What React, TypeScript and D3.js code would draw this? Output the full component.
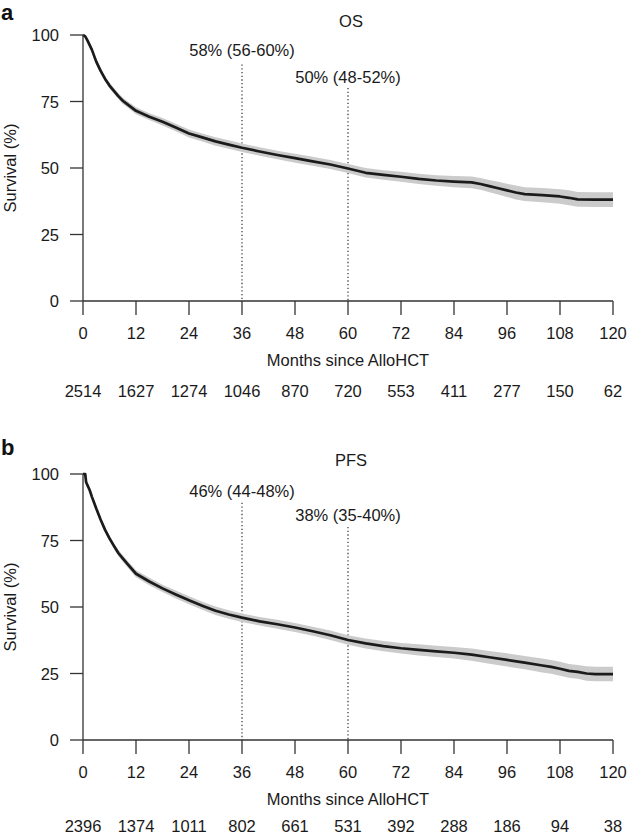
import React from "react";
import * as d3 from "d3";

const xTicks = [0, 12, 24, 36, 48, 60, 72, 84, 96, 108, 120];
const yTicks = [0, 25, 50, 75, 100];

const osAtRisk = [2514, 1627, 1274, 1046, 870, 720, 553, 411, 277, 150, 62];
const pfsAtRisk = [2396, 1374, 1011, 802, 661, 531, 392, 288, 186, 94, 38];

const osMonths = [0, 0.5, 1, 2, 3, 4, 5, 6, 7, 8, 9, 10, 12, 15, 18, 21, 24, 27, 30, 33, 36, 40, 44, 48, 52, 56, 60, 64, 68, 72, 76, 80, 84, 88, 90, 92, 94, 96, 98, 100, 104, 108, 110, 112, 116, 120];
const osSurv = [100, 99.5, 98, 94.5, 90, 86.5, 83.5, 81, 79, 77, 75.3, 74, 71.5, 69.3, 67.4, 65.2, 63, 61.5, 60, 58.8, 57.6, 56.2, 54.9, 53.7, 52.5, 51.3, 49.8, 48.2, 47.4, 46.7, 45.9, 45.3, 44.9, 44.6, 44.0, 43.2, 42.4, 41.6, 40.8, 40.2, 39.8, 39.3, 38.8, 38.2, 38.1, 38.1];
const osLower = [100, 99.2, 97.4, 93.7, 89.1, 85.5, 82.5, 79.9, 77.9, 75.9, 74.1, 72.8, 70.2, 68.0, 66.0, 63.8, 61.5, 60.0, 58.4, 57.2, 56.0, 54.6, 53.3, 52.0, 50.8, 49.6, 48.1, 46.4, 45.6, 44.8, 44.0, 43.3, 42.8, 42.4, 41.8, 40.9, 40.0, 39.1, 38.2, 37.6, 37.1, 36.6, 36.0, 35.4, 35.3, 35.3];
const osUpper = [100, 99.8, 98.6, 95.3, 90.9, 87.5, 84.5, 82.1, 80.1, 78.1, 76.5, 75.2, 72.8, 70.6, 68.8, 66.6, 64.5, 63.0, 61.6, 60.4, 59.2, 57.8, 56.5, 55.4, 54.2, 53.0, 51.5, 50.0, 49.2, 48.6, 47.8, 47.3, 47.0, 46.8, 46.2, 45.5, 44.8, 44.1, 43.4, 42.8, 42.5, 42.0, 41.6, 41.0, 40.9, 40.9];

const pfsMonths = [0, 0.5, 0.7, 1, 1.5, 2, 3, 4, 5, 6, 7, 8, 9, 10, 12, 15, 18, 21, 24, 27, 30, 33, 36, 40, 44, 48, 52, 56, 60, 64, 68, 72, 76, 80, 84, 88, 92, 96, 100, 104, 106, 108, 110, 112, 114, 116, 120];
const pfsSurv = [100, 100, 97, 95.8, 94, 91.5, 87, 82.8, 79, 75.8, 73, 70.3, 68.3, 66.3, 62.5, 59.6, 57, 54.7, 52.5, 50.5, 48.6, 47.2, 46, 44.6, 43.5, 42.3, 40.9, 39.4, 37.6, 36.3, 35.3, 34.5, 33.9, 33.3, 32.8, 32.1, 31.1, 30.1, 29.1, 28.0, 27.5, 26.8, 26.0, 25.6, 25.0, 24.8, 24.8];
const pfsLower = [100, 99.9, 96.6, 95.3, 93.4, 90.8, 86.2, 81.9, 78.0, 74.8, 71.9, 69.1, 67.1, 65.0, 61.2, 58.2, 55.6, 53.2, 51.0, 49.0, 47.0, 45.6, 44.4, 43.0, 41.8, 40.6, 39.2, 37.6, 35.8, 34.4, 33.4, 32.5, 31.8, 31.2, 30.6, 29.8, 28.7, 27.6, 26.6, 25.4, 24.9, 24.2, 23.4, 23.0, 22.3, 22.1, 22.1];
const pfsUpper = [100, 100, 97.4, 96.3, 94.6, 92.2, 87.8, 83.7, 80.0, 76.8, 74.1, 71.5, 69.5, 67.6, 63.8, 61.0, 58.4, 56.2, 54.0, 52.0, 50.2, 48.8, 47.6, 46.2, 45.2, 44.0, 42.6, 41.2, 39.4, 38.2, 37.2, 36.5, 36.0, 35.4, 35.0, 34.4, 33.5, 32.6, 31.6, 30.6, 30.1, 29.4, 28.6, 28.2, 27.7, 27.5, 27.5];

type Note = { month: number; labelAt: number; lineTop: number; text: string };
const osNotes: Note[] = [
  { month: 36, labelAt: 94.4, lineTop: 88.9, text: "58% (56-60%)" },
  { month: 60, labelAt: 84.2, lineTop: 80.1, text: "50% (48-52%)" },
];
const pfsNotes: Note[] = [
  { month: 36, labelAt: 93.6, lineTop: 89.2, text: "46% (44-48%)" },
  { month: 60, labelAt: 84.5, lineTop: 80.1, text: "38% (35-40%)" },
];

const FONT = "'Liberation Sans', Arial, Helvetica, sans-serif";
const INK = "#1a1a1a";
const FS = 16.5;

type PanelProps = {
  top: number;
  letter: string;
  letterY: number;
  title: string;
  months: number[];
  surv: number[];
  lower: number[];
  upper: number[];
  atRisk: number[];
  notes: Note[];
  riskOffset: number;
};

function Panel({ top, letter, letterY, title, months, surv, lower, upper, atRisk, notes, riskOffset }: PanelProps) {
  const x = d3.scaleLinear().domain([0, 120]).range([83, 613]);
  const y = d3.scaleLinear().domain([0, 100]).range([top + 266, top]);
  const idx = months.map((_, i) => i);
  const area = d3
    .area<number>()
    .x((i) => x(months[i]))
    .y0((i) => y(lower[i]))
    .y1((i) => y(upper[i]));
  const line = d3
    .line<number>()
    .x((i) => x(months[i]))
    .y((i) => y(surv[i]));
  const y0 = y(0);
  return (
    <g fontFamily={FONT} fill={INK}>
      <text x={1} y={letterY} fontSize={22} fontWeight="bold" fill="#111">
        {letter}
      </text>
      <text x={351} y={top - 14} fontSize={FS} textAnchor="middle" dominantBaseline="central">
        {title}
      </text>
      {notes.map((n) => (
        <g key={n.text}>
          <line
            x1={x(n.month)}
            x2={x(n.month)}
            y1={y(n.lineTop)}
            y2={y0}
            stroke="#333"
            strokeWidth={1.2}
            strokeDasharray="1.3,2.4"
          />
          <text x={x(n.month)} y={y(n.labelAt)} fontSize={FS} textAnchor="middle" dominantBaseline="central">
            {n.text}
          </text>
        </g>
      ))}
      <path d={area(idx) || ""} fill="#cbcbcb" stroke="none" />
      <path d={line(idx) || ""} fill="none" stroke="#1b1b1b" strokeWidth={2.7} strokeLinejoin="round" />
      <line x1={x(0)} x2={x(0)} y1={y(100)} y2={y0} stroke="#333" strokeWidth={1.3} />
      {yTicks.map((t) => (
        <g key={t}>
          <line x1={x(0) - 13} x2={x(0)} y1={y(t)} y2={y(t)} stroke="#333" strokeWidth={1.3} />
          <text x={x(0) - 24} y={y(t)} fontSize={FS} textAnchor="end" dominantBaseline="central">
            {t}
          </text>
        </g>
      ))}
      <text
        transform={`translate(10,${y(50)}) rotate(-90)`}
        fontSize={FS}
        textAnchor="middle"
        dominantBaseline="central"
      >
        Survival (%)
      </text>
      <line x1={x(0)} x2={x(120)} y1={y0} y2={y0} stroke="#333" strokeWidth={1.3} />
      {xTicks.map((t, i) => (
        <g key={t}>
          <line x1={x(t)} x2={x(t)} y1={y0} y2={y0 + 14} stroke="#333" strokeWidth={1.3} />
          <text x={x(t)} y={y0 + 32} fontSize={FS} textAnchor="middle" dominantBaseline="central">
            {t}
          </text>
          <text x={x(t)} y={y0 + riskOffset} fontSize={FS} textAnchor="middle" dominantBaseline="central">
            {atRisk[i]}
          </text>
        </g>
      ))}
      <text x={x(60)} y={y0 + 59} fontSize={FS} textAnchor="middle" dominantBaseline="central">
        Months since AlloHCT
      </text>
    </g>
  );
}

export default function App() {
  return (
    <svg
      width={628}
      height={835}
      viewBox="0 0 628 835"
      style={{ position: "absolute", left: 0, top: 0, background: "#fff" }}
    >
      <rect width={628} height={835} fill="#fff" />
      <Panel
        top={35}
        letter="a"
        letterY={20}
        title="OS"
        months={osMonths}
        surv={osSurv}
        lower={osLower}
        upper={osUpper}
        atRisk={osAtRisk}
        notes={osNotes}
        riskOffset={90}
      />
      <Panel
        top={474}
        letter="b"
        letterY={455}
        title="PFS"
        months={pfsMonths}
        surv={pfsSurv}
        lower={pfsLower}
        upper={pfsUpper}
        atRisk={pfsAtRisk}
        notes={pfsNotes}
        riskOffset={86}
      />
    </svg>
  );
}
